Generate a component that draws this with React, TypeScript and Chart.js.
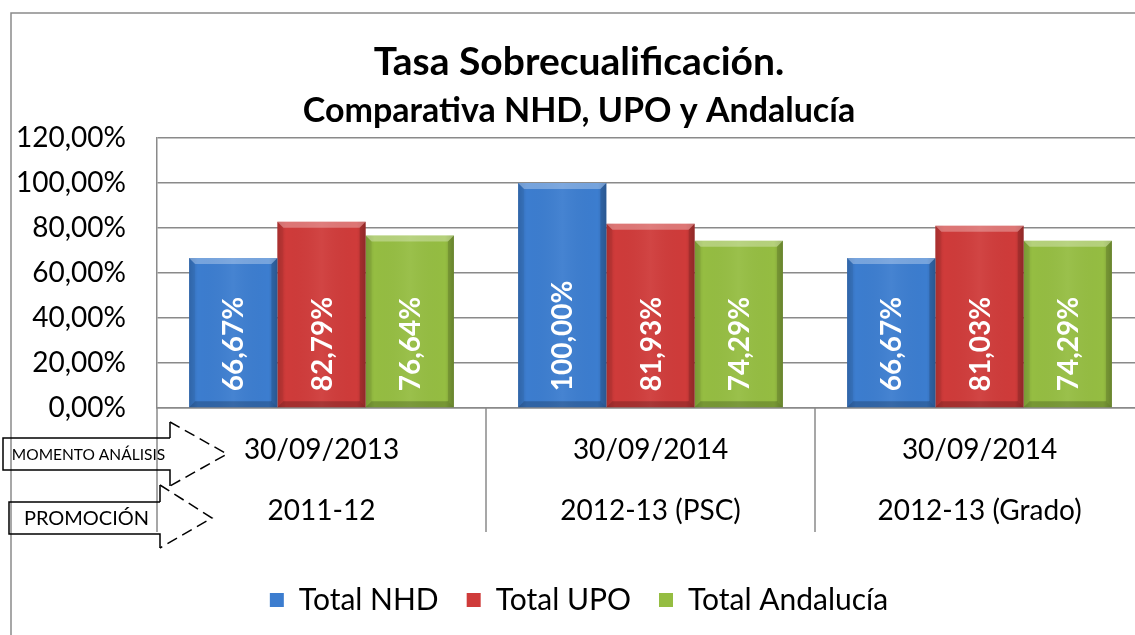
import React, { useEffect, useRef } from "react";
import { Chart, registerables } from "chart.js";

Chart.register(...registerables);

// ---- data ----
const momentoAnalisis = ["30/09/2013", "30/09/2014", "30/09/2014"];
const promocion = ["2011-12", "2012-13 (PSC)", "2012-13 (Grado)"];
const seriesNames = ["Total NHD", "Total UPO", "Total Andalucía"];
const totalNHD = [66.67, 100.0, 66.67];
const totalUPO = [82.79, 81.93, 81.03];
const totalAndalucia = [76.64, 74.29, 74.29];
const yMin = 0;
const yMax = 120;
const yStep = 20;
const titleText = "Tasa Sobrecualificación.";
const subtitleText = "Comparativa NHD, UPO y Andalucía";
const arrowLabels = ["MOMENTO ANÁLISIS", "PROMOCIÓN"];

const seriesColors = ["#3c7dcf", "#cf3b3a", "#95bd42"];
const GRID = "#8a8a8a";
const FONT = "Lato";

const fmt = (v: number) => v.toFixed(2).replace(".", ",") + "%";

const bevelPlugin = {
  id: "bevelLabels",
  afterDatasetsDraw(chart: any) {
    const ctx = chart.ctx;
    chart.data.datasets.forEach((ds: any, di: number) => {
      const meta = chart.getDatasetMeta(di);
      meta.data.forEach((bar: any, i: number) => {
        const { x, y, base, width } = bar.getProps(["x", "y", "base", "width"], true);
        const x0 = x - width / 2;
        const x1 = x + width / 2;
        const b = 6;
        ctx.save();
        const g = ctx.createLinearGradient(x0, 0, x1, 0);
        g.addColorStop(0, "rgba(0,0,0,0.14)");
        g.addColorStop(0.1, "rgba(0,0,0,0)");
        g.addColorStop(0.5, "rgba(255,255,255,0.05)");
        g.addColorStop(0.9, "rgba(0,0,0,0)");
        g.addColorStop(1, "rgba(0,0,0,0.18)");
        ctx.fillStyle = g;
        ctx.fillRect(x0, y, width, base - y);
        // top bevel
        ctx.beginPath();
        ctx.moveTo(x0, y);
        ctx.lineTo(x1, y);
        ctx.lineTo(x1 - b, y + b);
        ctx.lineTo(x0 + b, y + b);
        ctx.closePath();
        ctx.fillStyle = "rgba(255,255,255,0.3)";
        ctx.fill();
        // left bevel
        ctx.beginPath();
        ctx.moveTo(x0, y);
        ctx.lineTo(x0 + b, y + b);
        ctx.lineTo(x0 + b, base - b);
        ctx.lineTo(x0, base);
        ctx.closePath();
        ctx.fillStyle = "rgba(0,0,0,0.06)";
        ctx.fill();
        // right bevel
        ctx.beginPath();
        ctx.moveTo(x1, y);
        ctx.lineTo(x1 - b, y + b);
        ctx.lineTo(x1 - b, base - b);
        ctx.lineTo(x1, base);
        ctx.closePath();
        ctx.fillStyle = "rgba(0,0,0,0.15)";
        ctx.fill();
        // bottom bevel
        ctx.beginPath();
        ctx.moveTo(x0, base);
        ctx.lineTo(x1, base);
        ctx.lineTo(x1 - b, base - b);
        ctx.lineTo(x0 + b, base - b);
        ctx.closePath();
        ctx.fillStyle = "rgba(0,0,0,0.2)";
        ctx.fill();
        ctx.restore();

        // value label
        const v = ds.data[i];
        ctx.save();
        ctx.translate(x + 1, base - 16);
        ctx.rotate(-Math.PI / 2);
        ctx.font = `bold 28px ${FONT}`;
        ctx.fillStyle = "#ffffff";
        ctx.textAlign = "left";
        ctx.textBaseline = "middle";
        ctx.fillText(fmt(v), 0, 0);
        ctx.restore();
      });
    });
  },
};

const decorPlugin = {
  id: "decor",
  afterDraw(chart: any) {
    const ctx = chart.ctx;
    const area = chart.chartArea;
    const xs = chart.scales.x;
    const n = xs.ticks.length;
    ctx.save();
    // outer chart border
    ctx.strokeStyle = GRID;
    ctx.lineWidth = 1.5;
    ctx.beginPath();
    ctx.moveTo(11, chart.height);
    ctx.lineTo(11, 13);
    ctx.lineTo(chart.width, 13);
    ctx.stroke();
    // category dividers below axis
    const w = (area.right - area.left) / n;
    ctx.beginPath();
    for (let i = 0; i <= n; i++) {
      const px = area.left + i * w;
      ctx.moveTo(px, area.bottom);
      ctx.lineTo(px, area.bottom + 124);
    }
    ctx.stroke();

    // arrows
    const drawArrow = (sx0: number, sx1: number, sy0: number, sy1: number, hy0: number, hy1: number, tipX: number, label: string, fontSize: number) => {
      const tipY = (sy0 + sy1) / 2;
      ctx.strokeStyle = "#000";
      ctx.lineWidth = 1.5;
      ctx.setLineDash([]);
      ctx.beginPath();
      ctx.moveTo(sx1, sy0);
      ctx.lineTo(sx0, sy0);
      ctx.lineTo(sx0, sy1);
      ctx.lineTo(sx1, sy1);
      ctx.lineTo(sx1, hy1);
      ctx.moveTo(sx1, sy0);
      ctx.lineTo(sx1, hy0);
      ctx.stroke();
      ctx.setLineDash([11, 6]);
      ctx.beginPath();
      ctx.moveTo(sx1, hy0);
      ctx.lineTo(tipX, tipY);
      ctx.lineTo(sx1, hy1);
      ctx.stroke();
      ctx.setLineDash([]);
      ctx.fillStyle = "#000";
      ctx.font = `${fontSize}px ${FONT}`;
      ctx.textAlign = "center";
      ctx.textBaseline = "middle";
      ctx.fillText(label, (sx0 + sx1) / 2 + 2, tipY + 1);
    };
    drawArrow(3, 170, 438, 470, 422, 486, 227, arrowLabels[0], 15.5);
    drawArrow(9, 160, 502, 534, 485, 548, 212, arrowLabels[1], 20);
    ctx.restore();
  },
};

export default function App() {
  const ref = useRef<HTMLCanvasElement | null>(null);

  useEffect(() => {
    if (!ref.current) return;
    const labels = momentoAnalisis.map((m, i) => [m, promocion[i]]);
    const chart = new Chart(ref.current, {
      type: "bar",
      data: {
        labels,
        datasets: [
          { label: seriesNames[0], data: totalNHD, backgroundColor: seriesColors[0], borderWidth: 0 },
          { label: seriesNames[1], data: totalUPO, backgroundColor: seriesColors[1], borderWidth: 0 },
          { label: seriesNames[2], data: totalAndalucia, backgroundColor: seriesColors[2], borderWidth: 0 },
        ],
      },
      options: {
        responsive: false,
        animation: false,
        events: [],
        layout: { padding: { left: 14, right: 16, top: 0, bottom: 10 } },
        datasets: { bar: { categoryPercentage: 0.805, barPercentage: 1.0 } },
        scales: {
          x: {
            grid: { display: false, drawTicks: false },
            border: { display: true, color: GRID, width: 1.5 },
            ticks: {
              color: "#000",
              font: { family: FONT, size: 28, lineHeight: 2.2 },
              padding: 11,
              maxRotation: 0,
            },
            afterFit: (s: any) => {
              s.height = 149;
            },
          },
          y: {
            min: yMin,
            max: yMax,
            grid: { color: GRID, lineWidth: 1.5, drawTicks: false },
            border: { display: true, color: GRID, width: 1.5 },
            ticks: {
              stepSize: yStep,
              color: "#000",
              font: { family: FONT, size: 28 },
              padding: 31,
              callback: (v: any) => fmt(Number(v)),
            },
            afterFit: (s: any) => {
              s.width = 143;
            },
          },
        },
        plugins: {
          tooltip: { enabled: false },
          title: {
            display: true,
            text: titleText,
            color: "#000",
            font: { family: FONT, size: 39, weight: "bold", lineHeight: 1.2 },
            padding: { top: 38.6, bottom: 4.8 },
          },
          subtitle: {
            display: true,
            text: subtitleText,
            color: "#000",
            font: { family: FONT, size: 34, weight: "bold", lineHeight: 1.2 },
            padding: { top: 0, bottom: 7 },
          },
          legend: {
            position: "bottom",
            labels: {
              color: "#000",
              font: { family: FONT, size: 30 },
              boxWidth: 14,
              boxHeight: 14,
              padding: 28,
            },
          },
        },
      },
      plugins: [bevelPlugin, decorPlugin],
    });
    return () => chart.destroy();
  }, []);

  return (
    <div
      style={{
        position: "fixed",
        left: 0,
        top: 0,
        width: 1135,
        height: 635,
        overflow: "hidden",
        background: "#fff",
      }}
    >
      <canvas ref={ref} width={1160} height={635} style={{ width: 1160, height: 635, display: "block" }} />
    </div>
  );
}
